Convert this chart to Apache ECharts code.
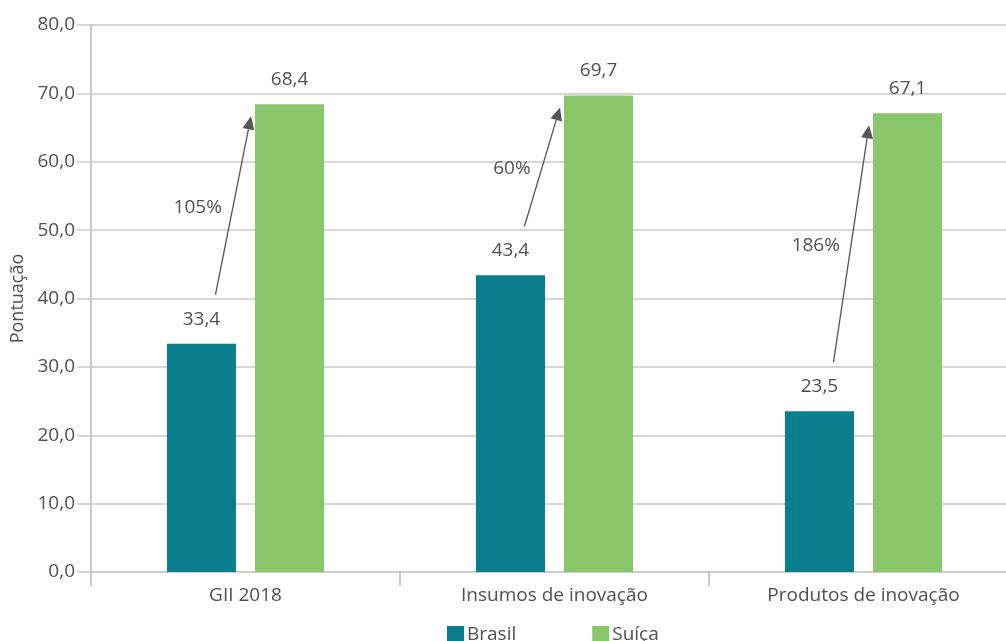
<!DOCTYPE html>
<html>
<head>
<meta charset="utf-8">
<script src="https://cdn.jsdelivr.net/npm/echarts@6/dist/echarts.min.js"></script>
<style>
html,body{margin:0;padding:0;background:#fff;overflow:hidden;width:1006px;height:641px;}
#chart{width:1018px;height:641px;}
</style>
</head>
<body>
<div id="chart"></div>
<script>
var categories = ['GII 2018', 'Insumos de inovação', 'Produtos de inovação'];
var brasil = [33.4, 43.4, 23.5];
var suica = [68.4, 69.7, 67.1];
var percentLabels = ['105%', '60%', '186%'];
var seriesNames = ['Brasil', 'Suíça'];
var yTicks = { min: 0, max: 80, interval: 10 };

var FONT = '"Open Sans", "Noto Sans", sans-serif';
var TEXT = '#505050';
var GRIDC = '#c8c8c8';
var FS = 19;
var BAR_W = 0.2235;
var BAR_GAP = 0.275;

function fmt(v) { return Number(v).toFixed(1).replace('.', ','); }

var chart = echarts.init(document.getElementById('chart'), null, { renderer: 'canvas' });

var option = {
  animation: false,
  grid: { left: 91, right: 0, top: 25, bottom: 69, containLabel: false },
  legend: {
    left: 442, top: 620,
    itemWidth: 17, itemHeight: 17, itemGap: 76,
    icon: 'rect',
    textStyle: { fontFamily: FONT, fontSize: FS, color: TEXT, padding: [0, 0, 0, -2] },
    data: seriesNames
  },
  xAxis: {
    type: 'category',
    data: categories,
    boundaryGap: true,
    axisLine: { show: true, lineStyle: { color: GRIDC, width: 1.5 } },
    axisTick: { show: true, length: 14, lineStyle: { color: GRIDC, width: 2 } },
    axisLabel: { fontFamily: FONT, fontSize: FS, color: TEXT, margin: 14 },
    splitLine: { show: false }
  },
  yAxis: {
    type: 'value',
    min: yTicks.min, max: yTicks.max, interval: yTicks.interval,
    name: 'Pontuação',
    nameLocation: 'middle',
    nameGap: 64,
    nameRotate: 90,
    nameTextStyle: { fontFamily: FONT, fontSize: 18, color: TEXT },
    axisLine: { show: true, lineStyle: { color: GRIDC, width: 2 } },
    axisTick: { show: true, length: 14, lineStyle: { color: GRIDC, width: 1.5 } },
    axisLabel: { fontFamily: FONT, fontSize: FS, color: TEXT, margin: 16, formatter: fmt },
    splitLine: { show: true, lineStyle: { color: GRIDC, width: 1.5 } }
  },
  series: [
    {
      name: seriesNames[0], type: 'bar', data: brasil,
      barWidth: (BAR_W * 100) + '%', barGap: (BAR_GAP * 100) + '%',
      itemStyle: { color: '#0A7E8C' },
      label: { show: true, position: 'top', distance: 15, fontFamily: FONT, fontSize: FS, color: TEXT,
        formatter: function (p) { return fmt(p.value); } }
    },
    {
      name: seriesNames[1], type: 'bar', data: suica,
      barWidth: (BAR_W * 100) + '%', barGap: (BAR_GAP * 100) + '%',
      itemStyle: { color: '#89C76A' },
      label: { show: true, position: 'top', distance: 15, fontFamily: FONT, fontSize: FS, color: TEXT,
        formatter: function (p) { return fmt(p.value); } }
    },
    {
      type: 'custom',
      silent: true,
      clip: false,
      z: 10,
      encode: { x: 0, y: [1, 2] },
      data: categories.map(function (c, i) { return [i, brasil[i], suica[i]]; }),
      renderItem: function (params, api) {
        var idx = api.value(0);
        var b = api.value(1), s = api.value(2);
        var catW = api.size([1, 0])[0];
        var bw = catW * BAR_W, gap = bw * BAR_GAP;
        var cb = api.coord([idx, b]);
        var cs = api.coord([idx, s]);
        var x0 = cb[0] - gap / 2 - bw / 2 + 14, y0 = cb[1] - 49;
        var x1 = cs[0] + gap / 2 - 4, y1 = cs[1] + 12;
        var ang = Math.atan2(y1 - y0, x1 - x0);
        var L = 13, W = 6;
        var bx = x1 - L * Math.cos(ang), by = y1 - L * Math.sin(ang);
        var px = -Math.sin(ang) * W, py = Math.cos(ang) * W;
        var my = (y0 + y1) / 2 + 2;
        var mx = x0 + (x1 - x0) * (y0 - my) / (y0 - y1);
        return {
          type: 'group',
          children: [
            { type: 'line', shape: { x1: x0, y1: y0, x2: bx, y2: by }, style: { stroke: '#555', lineWidth: 1.3 } },
            { type: 'polygon', shape: { points: [[x1, y1], [bx + px, by + py], [bx - px, by - py]] }, style: { fill: '#555' } },
            { type: 'text', x: mx - 11, y: my, style: { text: percentLabels[idx], align: 'right', verticalAlign: 'middle',
              fontFamily: FONT, fontSize: FS, fill: TEXT } }
          ]
        };
      }
    }
  ]
};
chart.setOption(option);
</script>
</body>
</html>
